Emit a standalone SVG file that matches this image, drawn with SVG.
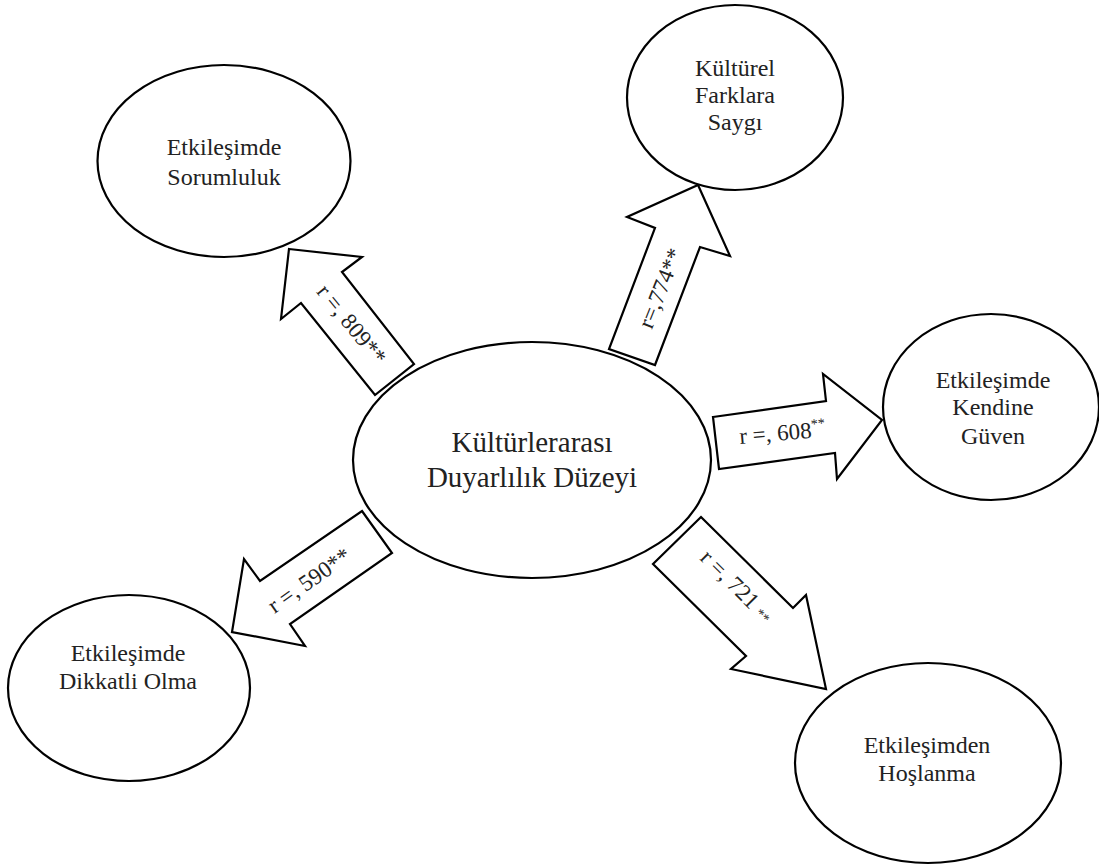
<svg xmlns="http://www.w3.org/2000/svg" width="1099" height="866" viewBox="0 0 1099 866">
<style>
.node{fill:#fff;stroke:#000;stroke-width:2.2}
.arrow{fill:#fff;stroke:#000;stroke-width:2.2;stroke-linejoin:miter}
.t{font-family:"Liberation Serif","Times New Roman",serif;font-size:24px;fill:#222;text-anchor:middle}
.big{font-size:29px}
.lbl{font-family:"Liberation Serif","Times New Roman",serif;font-size:23px;fill:#222}
.sup{font-size:14px}
</style>
<rect width="1099" height="866" fill="#fff"/>
<g id="connectors">
  <polygon class="arrow" points="289,249 362,257 342,272 414,364 375,395 301,303 281,319"/>
  <polygon class="arrow" points="698,185 730,256 700,247 655,365 609,349 655,228 627,217"/>
  <polygon class="arrow" points="713,417 826,401 823,374 882,420 837,479 835,453 719,469"/>
  <polygon class="arrow" points="362,511 392,553 290,624 305,646 232,632 244,559 260,581"/>
  <polygon class="arrow" points="701,517 793,608 806,595 826,689 731,669 746,656 653,564"/>
  <text class="lbl" text-anchor="middle" transform="translate(352,324) rotate(51)" dy="0.35em">r =, 809**</text>
  <text class="lbl" text-anchor="middle" transform="translate(660,288) rotate(-68)" dy="0.35em">r=,774**</text>
  <text class="lbl" transform="translate(740,444) rotate(-5)">r =, 608<tspan class="sup" dy="-9">**</tspan></text>
  <text class="lbl" text-anchor="middle" transform="translate(309,580) rotate(-35)" dy="0.35em">r =, 590**</text>
  <text class="lbl" transform="translate(699,559) rotate(45)">r =, 721 <tspan class="sup">**</tspan></text>
</g>
<g id="center">
  <ellipse class="node" cx="532" cy="460" rx="179" ry="118"/>
  <text class="t big" x="532" y="452">Kültürlerarası</text>
  <text class="t big" x="532" y="487">Duyarlılık Düzeyi</text>
</g>
<g id="sorumluluk">
  <ellipse class="node" cx="224" cy="161" rx="126.5" ry="96"/>
  <text class="t" x="224" y="155">Etkileşimde</text>
  <text class="t" x="224" y="185">Sorumluluk</text>
</g>
<g id="saygi">
  <ellipse class="node" cx="735" cy="97.5" rx="108" ry="92.5"/>
  <text class="t" x="735" y="76">Kültürel</text>
  <text class="t" x="735" y="103">Farklara</text>
  <text class="t" x="735" y="130">Saygı</text>
</g>
<g id="guven">
  <ellipse class="node" cx="991" cy="407" rx="108" ry="93"/>
  <text class="t" x="993" y="388">Etkileşimde</text>
  <text class="t" x="993" y="415">Kendine</text>
  <text class="t" x="993" y="444">Güven</text>
</g>
<g id="dikkatli">
  <ellipse class="node" cx="129" cy="688" rx="121" ry="93"/>
  <text class="t" x="128" y="661">Etkileşimde</text>
  <text class="t" x="128" y="689">Dikkatli Olma</text>
</g>
<g id="hoslanma">
  <ellipse class="node" cx="928" cy="763" rx="133" ry="100"/>
  <text class="t" x="927" y="753">Etkileşimden</text>
  <text class="t" x="927" y="781">Hoşlanma</text>
</g>
</svg>
